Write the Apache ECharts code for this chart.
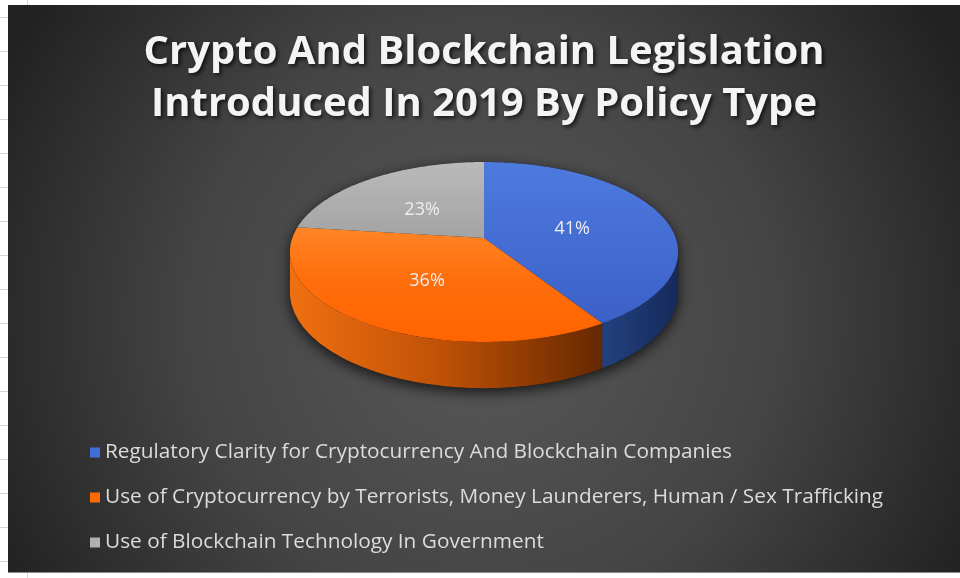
<!DOCTYPE html>
<html><head><meta charset="utf-8">
<script src="https://cdn.jsdelivr.net/npm/echarts@6/dist/echarts.min.js"></script>
<style>
html,body{margin:0;padding:0;background:#fff;width:960px;height:578px;overflow:hidden;position:relative}
#chart{position:absolute;left:8px;top:5px;width:952px;height:567px;border-bottom:1px solid #8c8c8c;}
.gl{position:absolute;background:#d6d6d6}
</style></head><body>
<div id="chart"></div>
<script>
// ---- data ----
const titleLines = ['Crypto And Blockchain Legislation', 'Introduced In 2019 By Policy Type'];
const categories = [
  'Regulatory Clarity for Cryptocurrency And Blockchain Companies',
  'Use of Cryptocurrency by Terrorists, Money Launderers, Human / Sex Trafficking',
  'Use of Blockchain Technology In Government'
];
const values = [41, 36, 23];

// ---- styles ----
const flatColors = ['#3f6fd6', '#ff6a00', '#b0b0b0'];
const topStops = [
  [['#4e7ade', 0], ['#3b60c8', 1]],
  [['#ff8526', 0], ['#ff6e0c', 0.45], ['#ff6400', 1]],
  [['#bababa', 0], ['#a3a3a3', 1]]
];
const wallStops = [
  [['#23417f', 0], ['#16295a', 1]],
  [['#f07010', 0], ['#bd5006', 0.5], ['#652800', 1]],
  [['#777777', 0], ['#555555', 1]]
];

// spreadsheet gridlines in the margin
for (let n = 0; n < 17; n++) {
  const d = document.createElement('div'); d.className = 'gl';
  d.style.cssText = 'left:0;top:' + (17 + 34 * n) + 'px;width:8px;height:1px';
  document.body.appendChild(d);
}
['top:0;height:5px', 'top:573px;height:5px'].forEach(s => {
  const d = document.createElement('div'); d.className = 'gl';
  d.style.cssText = 'left:27px;width:1px;' + s; document.body.appendChild(d);
});

const chart = echarts.init(document.getElementById('chart'));
const total = values.reduce((a, b) => a + b, 0);
const K = 0.155; // perspective
const VIS0 = Math.acos(-K) * 180 / Math.PI, VIS1 = 360 - VIS0;

function geom(api) {
  const W = api.getWidth(), H = api.getHeight();
  return { cx: W * 0.5, cy: H * 0.411, rx: W * 0.2014, ry: H * 0.1549, h: H * 0.0688 };
}
function proj(g, r, deg, dz) {
  const t = deg * Math.PI / 180;
  const u = r * Math.sin(t), v = -r * Math.cos(t);
  const s = 1 / (1 - K * v);
  return [g.cx + g.rx * u * s, g.cy + (g.ry * v + g.h * dz) * s];
}
function arc(g, a0, a1, dz) {
  const pts = []; const n = Math.max(2, Math.ceil(Math.abs(a1 - a0)));
  for (let j = 0; j <= n; j++) pts.push(proj(g, 1, a0 + (a1 - a0) * j / n, dz));
  return pts;
}
function grad(stops, horiz) {
  return new echarts.graphic.LinearGradient(0, 0, horiz ? 1 : 0, horiz ? 0 : 1,
    stops.map(s => ({ offset: s[1], color: s[0] })));
}

function renderSlice(params, api) {
  const i = params.seriesIndex;
  const g = geom(api);
  const v = api.value(0);
  let before = 0; for (let j = 0; j < i; j++) before += values[j];
  const a0 = 360 * before / total, a1 = a0 + 360 * v / total;
  const children = [];
  if (i === 0) {
    const sil = arc(g, VIS1 - 360, VIS0, 0).concat(arc(g, VIS0, VIS1, 1));
    children.push({ type: 'polygon', z2: 0, shape: { points: sil },
      style: { fill: '#1a1a1a', shadowBlur: 14, shadowColor: 'rgba(0,0,0,0.75)', shadowOffsetY: 4 } });
  }
  const b0 = Math.max(a0, VIS0), b1 = Math.min(a1, VIS1);
  if (b1 > b0) {
    const pts = arc(g, b0, b1, 0).concat(arc(g, b1, b0, 1));
    children.push({ type: 'polygon', z2: 5, shape: { points: pts },
      style: { fill: grad(wallStops[i], true) } });
  }
  const top = [[g.cx, g.cy]].concat(arc(g, a0, a1, 0));
  children.push({ type: 'polygon', z2: 10, shape: { points: top },
    style: { fill: grad(topStops[i], false) } });
  const mid = (a0 + a1) / 2;
  const lp = proj(g, 0.5, mid, 0);
  children.push({ type: 'text', z2: 20, x: lp[0] - 2, y: lp[1] + 3,
    style: { text: Math.round(v / total * 100) + '%', fill: '#eeeeee',
      font: '18px "Open Sans"', align: 'center', verticalAlign: 'middle',
      textAlign: 'center', textVerticalAlign: 'middle' } });
  return { type: 'group', children };
}

chart.setOption({
  animation: false,
  backgroundColor: new echarts.graphic.RadialGradient(0.5, 0.55, 0.95, [
    { offset: 0, color: '#595959' }, { offset: 0.55, color: '#444444' }, { offset: 1, color: '#222222' }
  ]),
  title: {
    text: titleLines.join('\n'), left: 'center', top: 17, padding: [5, 23, 5, 5],
    textStyle: { color: '#f4f4f4', fontFamily: 'Open Sans', fontWeight: 'bold', fontSize: 40, lineHeight: 52,
      textShadowColor: 'rgba(0,0,0,0.75)', textShadowBlur: 4, textShadowOffsetX: 2, textShadowOffsetY: 2 }
  },
  legend: {
    data: categories, orient: 'vertical', left: 82, top: 437, icon: 'rect', padding: 0,
    itemWidth: 10, itemHeight: 10, itemGap: 24,
    textStyle: { color: '#dcdcdc', fontFamily: 'Open Sans', fontSize: 20.8, lineHeight: 21 }
  },
  series: categories.map((name, i) => ({
    type: 'custom', name, coordinateSystem: 'none', silent: true,
    itemStyle: { color: flatColors[i] },
    renderItem: renderSlice,
    data: [[values[i]]]
  }))
});
</script>
</body></html>
